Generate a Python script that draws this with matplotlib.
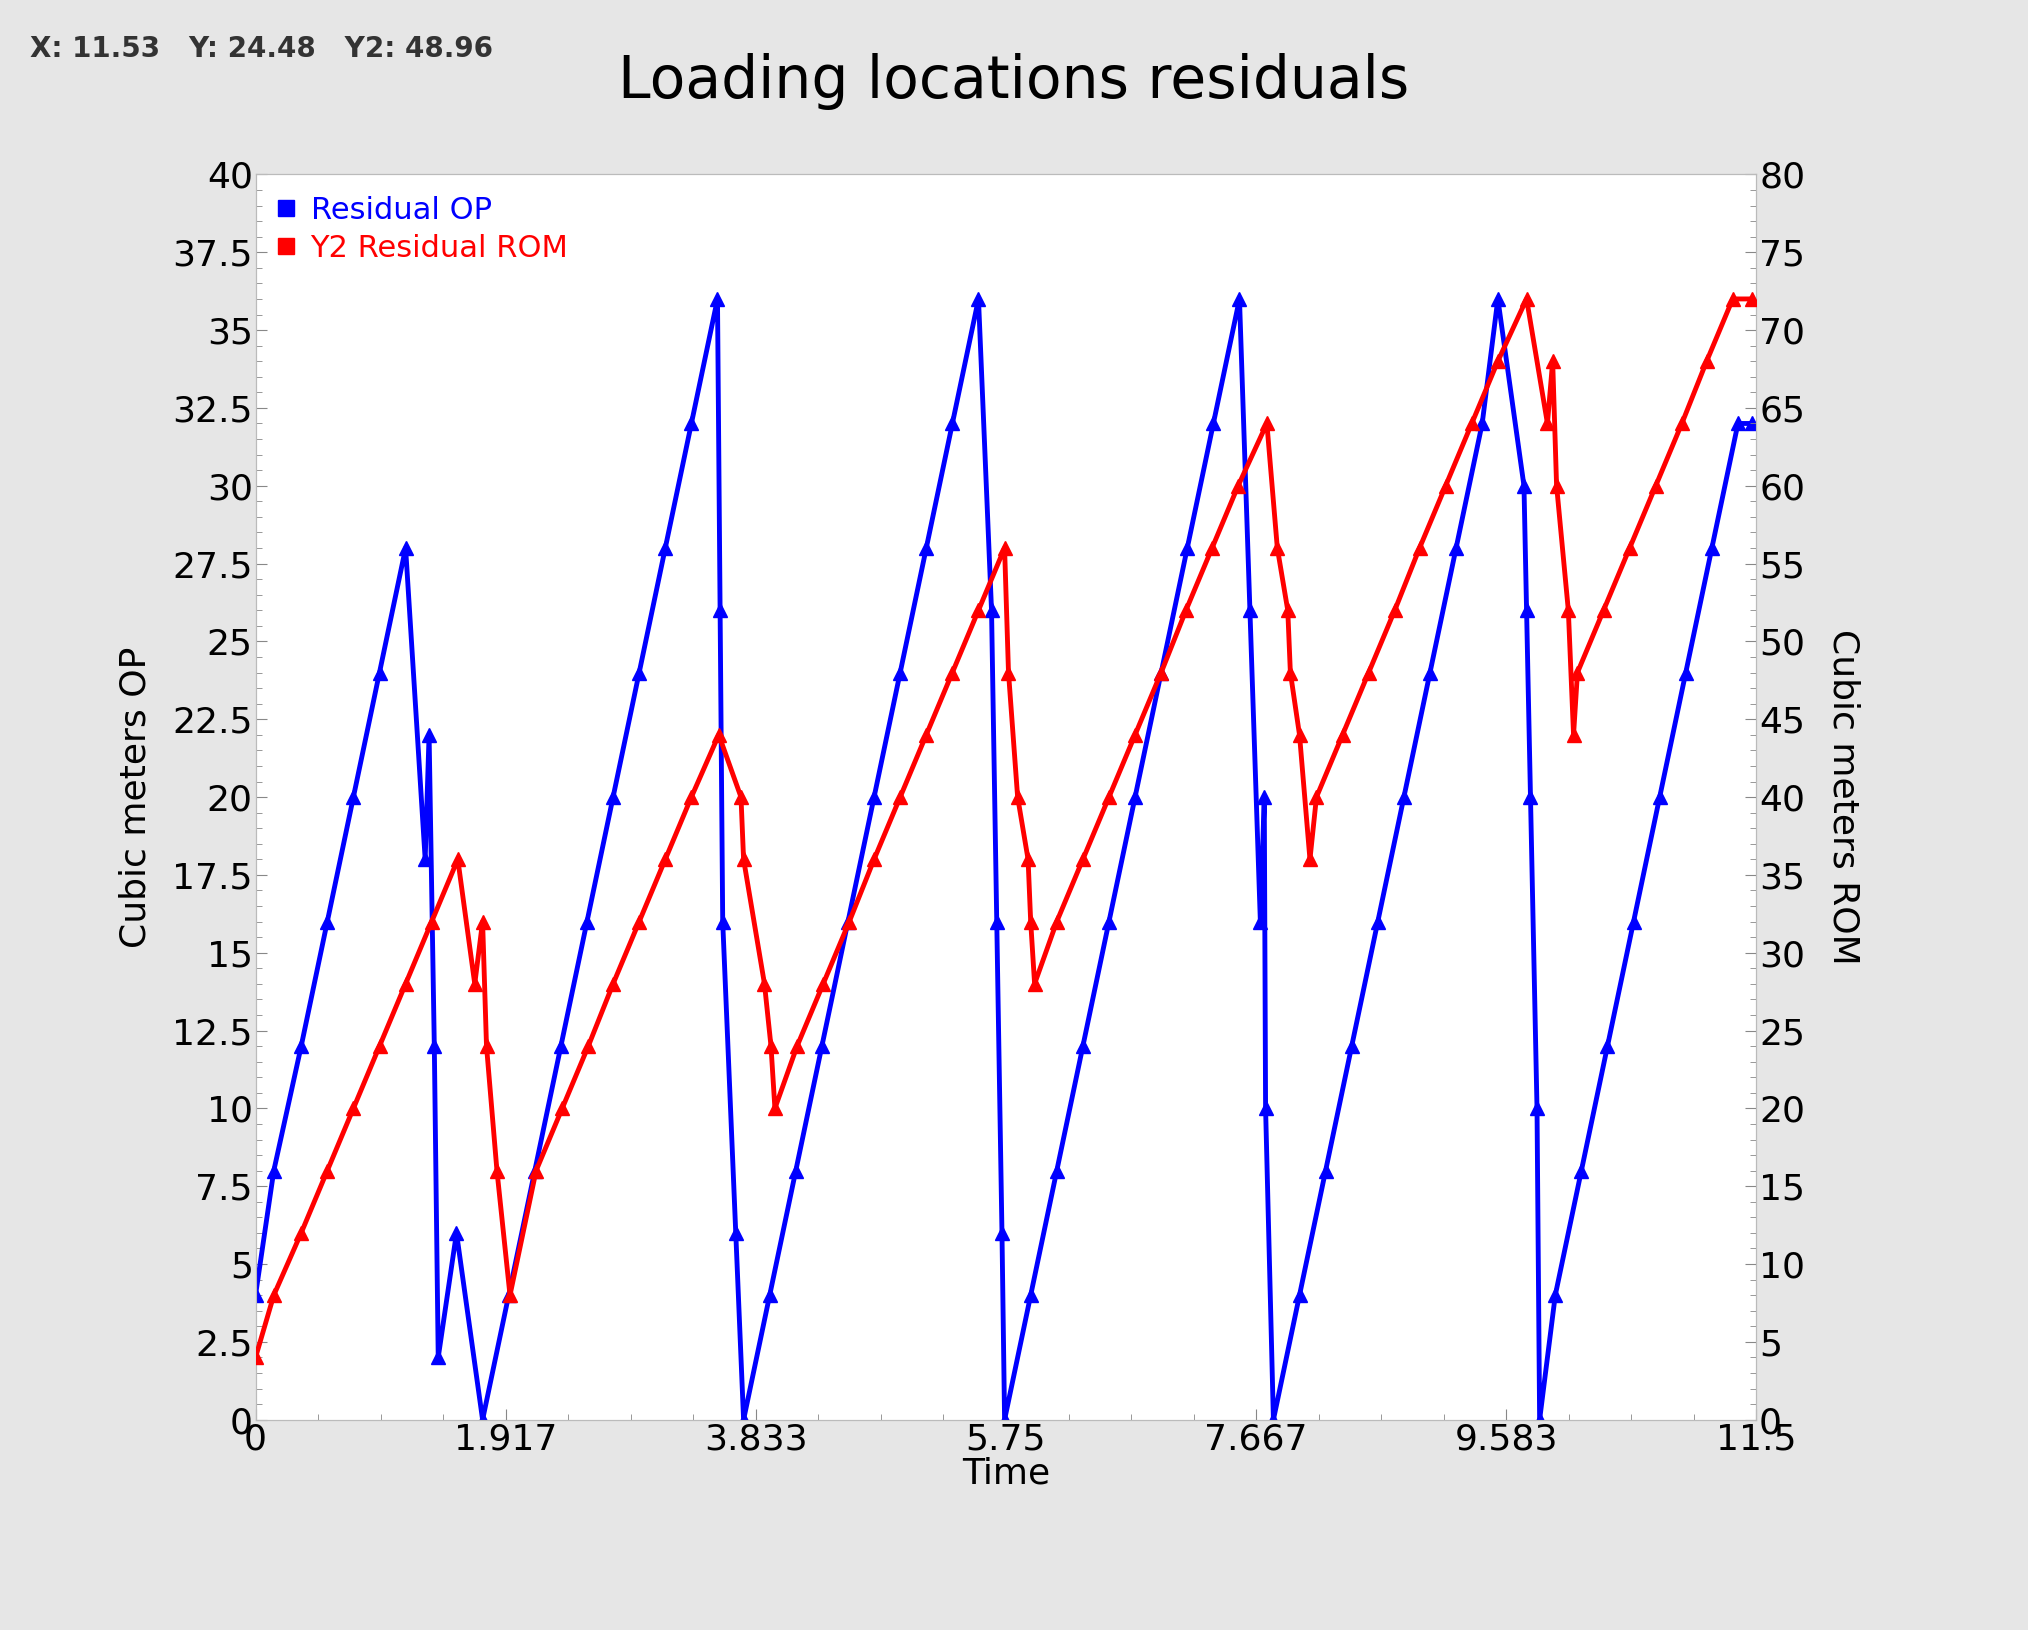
import matplotlib.pyplot as plt
from matplotlib.ticker import MultipleLocator, AutoMinorLocator

# Residual OP (left axis)
op_t = [0, 0.14, 0.35, 0.55, 0.75, 0.95, 1.15, 1.30, 1.33, 1.37, 1.40, 1.54, 1.74,
        1.94, 2.14, 2.34, 2.54, 2.74, 2.94, 3.14, 3.34, 3.54, 3.56, 3.58, 3.68, 3.74,
        3.94, 4.14, 4.34, 4.54, 4.74, 4.94, 5.14, 5.34, 5.54, 5.64, 5.68, 5.72, 5.74,
        5.94, 6.14, 6.34, 6.54, 6.74, 6.94, 7.14, 7.34, 7.54, 7.62, 7.70, 7.73, 7.74, 7.80,
        8.0, 8.2, 8.4, 8.6, 8.8, 9.0, 9.2, 9.4, 9.52, 9.72, 9.74, 9.77, 9.82, 9.84,
        9.96, 10.16, 10.36, 10.56, 10.76, 10.96, 11.16, 11.36, 11.47]
op_v = [4, 8, 12, 16, 20, 24, 28, 18, 22, 12, 2, 6, 0,
        4, 8, 12, 16, 20, 24, 28, 32, 36, 26, 16, 6, 0,
        4, 8, 12, 16, 20, 24, 28, 32, 36, 26, 16, 6, 0,
        4, 8, 12, 16, 20, 24, 28, 32, 36, 26, 16, 20, 10, 0,
        4, 8, 12, 16, 20, 24, 28, 32, 36, 30, 26, 20, 10, 0,
        4, 8, 12, 16, 20, 24, 28, 32, 32]

# Y2 Residual ROM (right axis)
rom_t = [0, 0.14, 0.35, 0.55, 0.75, 0.95, 1.15, 1.35, 1.55, 1.68, 1.74, 1.77, 1.85, 1.95,
         2.15, 2.35, 2.55, 2.74, 2.94, 3.14, 3.34, 3.55, 3.72, 3.74, 3.90, 3.95, 3.98,
         4.15, 4.35, 4.55, 4.74, 4.94, 5.14, 5.34, 5.54, 5.74, 5.77, 5.84, 5.92, 5.94, 5.97,
         6.14, 6.34, 6.54, 6.74, 6.94, 7.13, 7.33, 7.53, 7.75, 7.83, 7.91, 7.93, 8.0, 8.08,
         8.13, 8.33, 8.53, 8.73, 8.92, 9.12, 9.32, 9.52, 9.74, 9.90, 9.94, 9.97, 10.06, 10.10,
         10.13, 10.33, 10.53, 10.73, 10.93, 11.12, 11.32, 11.47]
rom_v = [4, 8, 12, 16, 20, 24, 28, 32, 36, 28, 32, 24, 16, 8,
         16, 20, 24, 28, 32, 36, 40, 44, 40, 36, 28, 24, 20,
         24, 28, 32, 36, 40, 44, 48, 52, 56, 48, 40, 36, 32, 28,
         32, 36, 40, 44, 48, 52, 56, 60, 64, 56, 52, 48, 44, 36,
         40, 44, 48, 52, 56, 60, 64, 68, 72, 64, 68, 60, 52, 44,
         48, 52, 56, 60, 64, 68, 72, 72]

x_ticks = [0, 1.917, 3.833, 5.75, 7.667, 9.583, 11.5]
x_labels = ['0', '1.917', '3.833', '5.75', '7.667', '9.583', '11.5']

fig = plt.figure(figsize=(20.28, 16.3), dpi=100, facecolor='#e6e6e6')
ax = fig.add_axes([0.126, 0.129, 0.740, 0.764])
ax2 = ax.twinx()

ax.plot(op_t, op_v, color='blue', lw=3.5, marker='^', ms=10, zorder=3)
ax2.plot(rom_t, rom_v, color='red', lw=3.5, marker='^', ms=10, zorder=3)

ax.set_xlim(0, 11.5)
ax.set_ylim(0, 40)
ax2.set_ylim(0, 80)
ax.set_xticks(x_ticks)
ax.set_xticklabels(x_labels)
ax.xaxis.set_minor_locator(AutoMinorLocator(4))
ax.yaxis.set_major_locator(MultipleLocator(2.5))
ax.yaxis.set_minor_locator(MultipleLocator(0.5))
ax2.yaxis.set_major_locator(MultipleLocator(5))
ax2.yaxis.set_minor_locator(MultipleLocator(1))
ax.set_yticklabels([f'{v:g}' for v in ax.get_yticks()])

for a in (ax, ax2):
    a.tick_params(axis='both', which='major', direction='in', length=8,
                  labelsize=26, color='#888888', pad=2)
    a.tick_params(axis='both', which='minor', direction='in', length=4, color='#888888')
    for s in a.spines.values():
        s.set_color('#bbbbbb')

ax.set_xlabel('Time', fontsize=26, labelpad=0)
ax.set_ylabel('Cubic meters OP', fontsize=26, labelpad=14)
ax2.set_ylabel('Cubic meters ROM', fontsize=26, rotation=270, labelpad=40)

fig.text(0.5, 0.94, 'Loading locations residuals', ha='center', fontsize=42)
fig.text(0.015, 0.965, 'X: 11.53   Y: 24.48   Y2: 48.96', fontsize=20, weight='bold', color='#333333')

ax.plot([], [], 's', color='blue', ms=12, label='Residual OP')
ax.plot([], [], 's', color='red', ms=12, label='Y2 Residual ROM')
leg = ax.legend(loc='upper left', frameon=False, fontsize=22, handlelength=0.6,
                handletextpad=0.5, borderaxespad=0.3, labelspacing=0.3)
for t, c in zip(leg.get_texts(), ['blue', 'red']):
    t.set_color(c)

fig.savefig('out.png', dpi=100, facecolor=fig.get_facecolor())
